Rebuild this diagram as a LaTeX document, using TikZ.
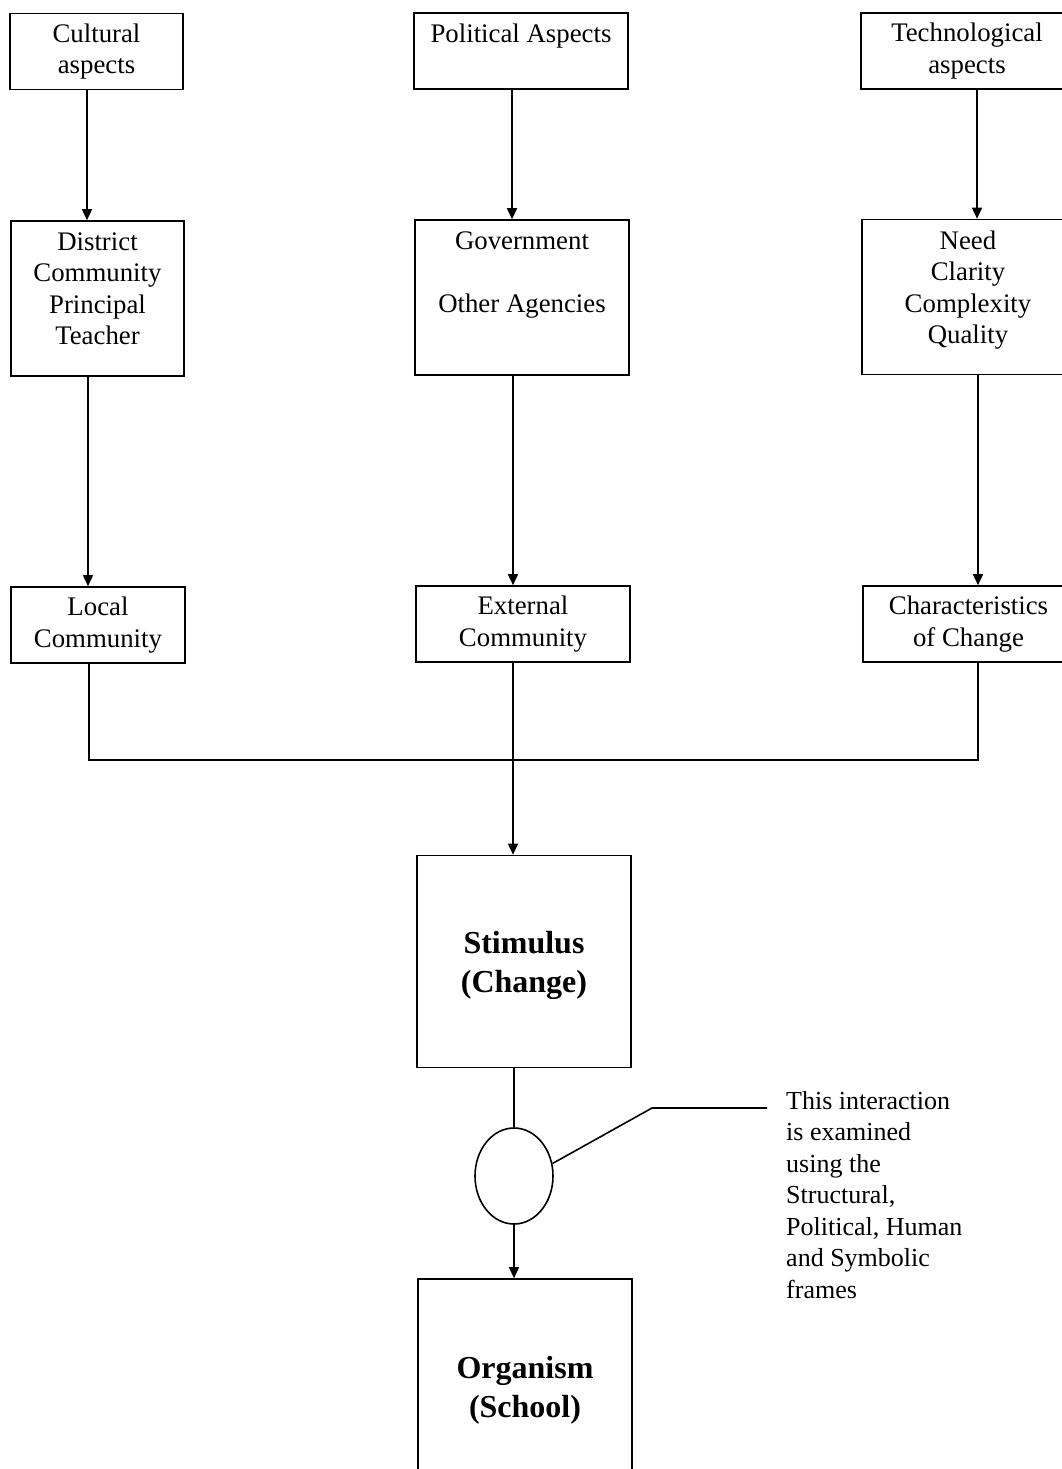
\documentclass[tikz,border=0pt]{standalone}
\usepackage{fontspec}
\setmainfont{Liberation Serif}
\usetikzlibrary{arrows.meta}
\usetikzlibrary{shapes.geometric}

\begin{document}
\begin{tikzpicture}[x=1pt,y=-1pt,
    box/.style={draw, line width=1.6pt, inner sep=0pt, align=center,
        font=\fontsize{26.8}{31.5}\selectfont},
    flatbox/.style={box, minimum height=76pt},
    tallbox/.style={box, minimum height=155pt, text depth=20pt},
    bigbox/.style={box, minimum width=214pt, minimum height=212pt, text height=69pt,
        font=\fontsize{32}{39}\selectfont\bfseries},
    link/.style={line width=1.6pt},
    arr/.style={link, -{Triangle[length=11pt,width=10pt]}}]

\useasboundingbox (0,0) rectangle (1062,1469);
\clip (0,0) rectangle (1062,1469);

% top row
\node[flatbox, minimum width=173pt] (cultural) at (96.5,51.5) {Cultural\\aspects};
\node[flatbox, minimum width=214pt, text depth=5pt] (political) at (521,51) {Political Aspects\\\mbox{}};
\node[flatbox, minimum width=212pt] (techno) at (967,51) {Technological\\aspects};

% middle row
\node[tallbox, minimum width=173pt] (district) at (97.5,298.5) {District\\Community\\Principal\\Teacher};
\node[tallbox, minimum width=214pt] (government) at (522,297.5) {Government\\\mbox{}\\Other Agencies\\\mbox{}};
\node[tallbox, minimum width=212pt] (need) at (968,297) {Need\\Clarity\\Complexity\\Quality};

% communities
\node[flatbox, minimum width=174pt] (local) at (98,625) {Local\\Community};
\node[flatbox, minimum width=214pt] (external) at (523,624) {External\\Community};
\node[flatbox, minimum width=211pt] (charac) at (968.5,624) {Characteristics\\of Change};

\node[bigbox] (stimulus) at (524,961.5) {Stimulus\\(Change)};
\node[draw, ellipse, line width=1.6pt, inner sep=0pt,
    minimum width=78pt, minimum height=96pt] (interact) at (514,1176) {};
\node[bigbox, minimum height=215pt] (organism) at (525,1386.5) {Organism\\(School)};

\node[anchor=north west, align=left, inner xsep=19pt, inner ysep=0pt,
    font=\fontsize{26}{31.5}\selectfont] (note) at (767,1091)
    {This interaction\\is examined\\using the\\Structural,\\Political, Human\\and Symbolic\\frames};

\coordinate (join) at (513,760);
\coordinate (bend) at (652,1108);

\draw[arr] ([xshift=-9.5pt]cultural.south) -- ([xshift=-10.5pt]district.north);
\draw[arr] ([xshift=-9pt]political.south) -- ([xshift=-10pt]government.north);
\draw[arr] ([xshift=10pt]techno.south) -- ([xshift=9pt]need.north);

\draw[arr] ([xshift=-9.5pt]district.south) -- ([xshift=-10pt]local.north);
\draw[arr] ([xshift=-9pt]government.south) -- ([xshift=-10pt]external.north);
\draw[arr] ([xshift=10pt]need.south) -- ([xshift=9.5pt]charac.north);

\draw[link] ([xshift=-9pt]local.south) |- (join) -| ([xshift=9.5pt]charac.south);
\draw[arr] ([xshift=-10pt]external.south) -- ([xshift=-11pt]stimulus.north);

\draw[link] ([xshift=-10pt]stimulus.south) -- (interact.north);
\draw[arr] (interact.south) -- ([xshift=-11pt]organism.north);
\draw[link] (interact.18) -- (bend) -- (bend -| note.west);
\end{tikzpicture}
\end{document}
